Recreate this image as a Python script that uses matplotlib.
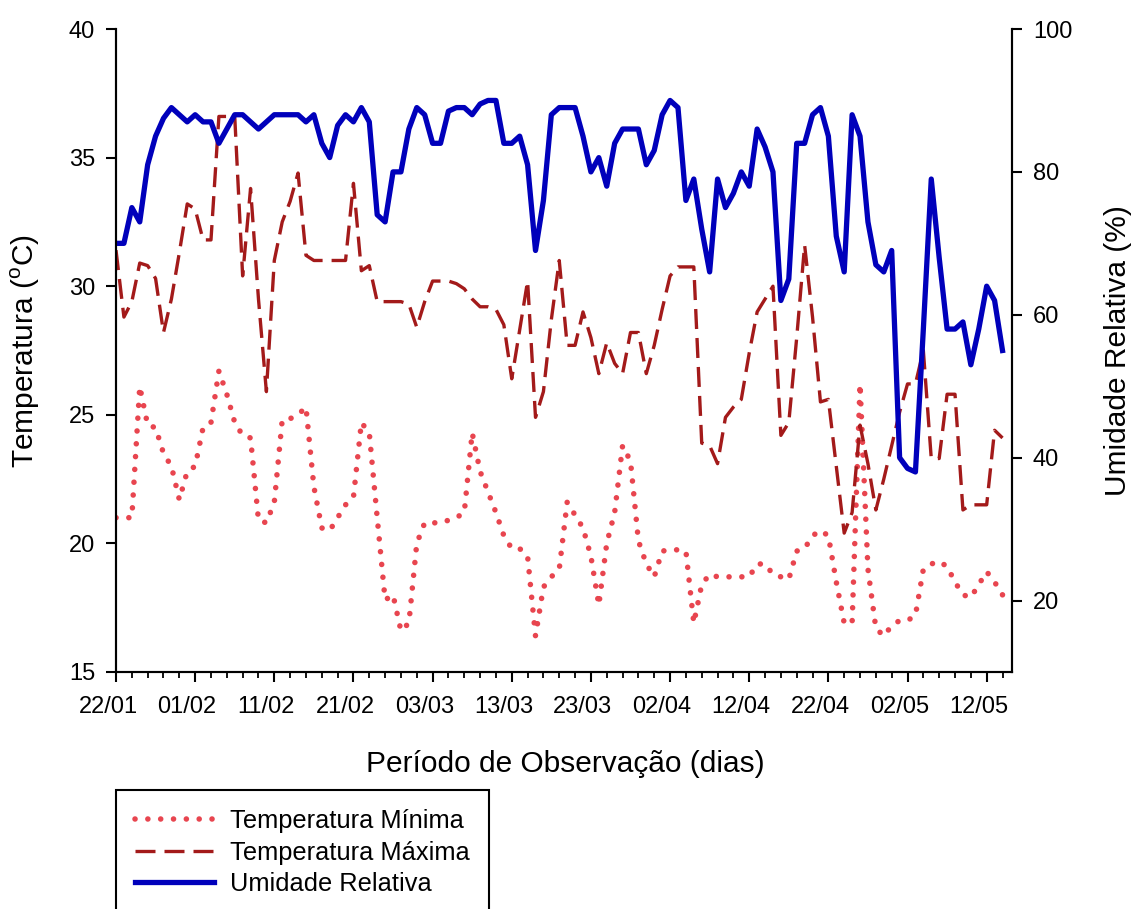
import matplotlib
matplotlib.use('Agg')
import matplotlib.pyplot as plt
import numpy as np
from matplotlib.ticker import MultipleLocator
from matplotlib.transforms import ScaledTranslation

plt.rcParams['font.family'] = ['Liberation Sans', 'DejaVu Sans']
plt.rcParams['mathtext.fontset'] = 'custom'
plt.rcParams['mathtext.rm'] = 'Liberation Sans'

# daily values from 22/01 to 13/05
t_min = [21.0, 21.0, 21.0, 26.1, 24.6, 24.5, 23.5, 23.0, 21.7, 22.8,
         23.0, 24.5, 24.7, 26.7, 25.8, 24.7, 24.2, 24.1, 20.9, 20.8,
         21.6, 24.8, 24.85, 25.0, 25.3, 22.2, 20.6, 20.5, 21.0, 21.5,
         21.8, 24.7, 24.3, 21.0, 17.8, 18.0, 16.6, 16.9, 20.0, 20.8,
         20.8, 20.8, 20.9, 21.0, 21.2, 24.3, 22.8, 22.0, 21.2, 20.3,
         19.8, 19.8, 19.5, 16.4, 18.3, 18.7, 19.0, 21.6, 21.1, 20.6,
         19.5, 17.6, 20.0, 21.2, 23.8, 23.2, 20.1, 19.2, 18.7, 19.7,
         19.75, 19.75, 19.7, 16.9, 18.4, 18.8, 18.7, 18.7, 18.7, 18.7,
         18.7, 19.2, 19.2, 18.8, 18.7, 18.6, 19.7, 19.8, 20.3, 20.5,
         20.3, 18.5, 16.9, 16.9, 26.2, 19.0, 16.7, 16.4, 16.8, 17.0,
         17.0, 17.2, 19.0, 19.2, 19.3, 19.1, 18.5, 18.0, 17.9, 18.4,
         18.9, 18.5, 18.0]

t_max = [31.4, 28.8, 29.4, 30.9, 30.8, 30.3, 28.2, 29.5, 31.3, 33.2,
         33.0, 31.8, 31.8, 36.6, 36.6, 36.6, 30.4, 33.8, 29.5, 25.9,
         31.0, 32.5, 33.3, 34.4, 31.2, 31.0, 31.0, 31.0, 31.0, 31.0,
         34.0, 30.6, 30.8, 29.4, 29.4, 29.4, 29.4, 29.3, 28.4, 29.4,
         30.2, 30.2, 30.2, 30.1, 29.9, 29.5, 29.2, 29.2, 29.1, 28.5,
         26.4, 28.3, 30.2, 24.9, 25.9, 28.7, 31.0, 27.7, 27.7, 29.0,
         28.0, 26.6, 27.8, 27.0, 26.6, 28.2, 28.2, 26.6, 27.7, 29.1,
         30.4, 30.75, 30.75, 30.75, 23.9, 23.8, 23.1, 24.9, 25.3, 25.6,
         27.4, 29.0, 29.5, 30.0, 24.2, 24.7, 28.0, 31.6, 28.8, 25.5,
         25.6, 23.0, 20.4, 21.2, 24.6, 23.1, 21.3, 22.5, 23.8, 25.1,
         26.2, 26.2, 27.5, 23.3, 23.3, 25.8, 25.8, 21.3, 21.5, 21.5,
         21.5, 24.4, 24.1]

umidade = [70, 70, 75, 73, 81, 85, 87.5, 89, 88, 87,
           88, 87, 87, 84, 86, 88, 88, 87, 86, 87,
           88, 88, 88, 88, 87, 88, 84, 82, 86.5, 88,
           87, 89, 87, 74, 73, 80, 80, 86, 89, 88,
           84, 84, 88.5, 89, 89, 88, 89.5, 90, 90, 84,
           84, 85, 81, 69, 76, 88, 89, 89, 89, 85,
           80, 82, 78, 84, 86, 86, 86, 81, 83, 88,
           90, 89, 76, 79, 72, 66, 79, 75, 77, 80,
           78, 86, 83.5, 80, 62, 65, 84, 84, 88, 89,
           85, 71, 66, 88, 85, 73, 67, 66, 69, 40,
           38.5, 38, 58, 79, 68, 58, 58, 59, 53, 58,
           64, 62, 55]

date_labels = ['22/01', '01/02', '11/02', '21/02', '03/03', '13/03',
               '23/03', '02/04', '12/04', '22/04', '02/05', '12/05']
legend_labels = ['Temperatura Mínima', 'Temperatura Máxima', 'Umidade Relativa']

W, H = 1136, 909
fig = plt.figure(figsize=(W / 100, H / 100), dpi=100)
ax = fig.add_axes([116 / W, 1 - 672 / H, (1012 - 116) / W, (672 - 29) / H])
ax2 = ax.twinx()

days = np.arange(len(t_min))

l1, = ax.plot(days, t_min, color='#e8454f', lw=4.0,
              linestyle=(0, (0.01, 2.3)), dash_capstyle='round')
l2, = ax.plot(days, t_max, color='#a31a1a', lw=2.4, linestyle=(0, (6, 2.7)))
l3, = ax2.plot(days, umidade, color='#0000bb', lw=3.8)

ax.set_xlim(0, 113.2)
ax.set_ylim(15, 40)
ax2.set_ylim(10, 100)

ax.set_xticks(np.arange(0, 10 * len(date_labels), 10))
ax.set_xticklabels(date_labels)
ax.xaxis.set_minor_locator(MultipleLocator(2))
ax.set_yticks(np.arange(15, 41, 5))
ax2.set_yticks(np.arange(20, 101, 20))

for a in (ax, ax2):
    a.spines['top'].set_visible(False)
    for s in a.spines.values():
        s.set_linewidth(1.5)
    a.tick_params(which='major', direction='out', length=7, width=1.5,
                  labelsize=17, pad=8)
    a.tick_params(which='minor', direction='out', length=4, width=1.3)
ax.tick_params(axis='x', which='major', pad=10)

# date labels sit slightly left of their ticks in the original
shift = ScaledTranslation(-8 / 100, 0, fig.dpi_scale_trans)
for tick in ax.xaxis.get_major_ticks():
    tick.label1.set_transform(tick.label1.get_transform() + shift)

fig.text(25 / W, 1 - 351 / H, r'Temperatura ($^{\rm o}$C)', rotation=90,
         ha='center', va='center', fontsize=21.5)
fig.text(1118 / W, 1 - 351 / H, 'Umidade Relativa (%)', rotation=90,
         ha='center', va='center', fontsize=21.5)
fig.text(565 / W, 1 - 772 / H, 'Período de Observação (dias)',
         ha='center', va='baseline', fontsize=21.5)

leg = fig.legend([l1, l2, l3], legend_labels, loc='upper left',
                 bbox_to_anchor=(116 / W, 1 - 790 / H), fontsize=18.3,
                 handlelength=3.1, handletextpad=0.65, borderpad=0.75,
                 labelspacing=0.3, frameon=True, fancybox=False,
                 edgecolor='black', framealpha=1, borderaxespad=0)
leg.get_frame().set_linewidth(1.5)

fig.savefig('out.png', dpi=100)
